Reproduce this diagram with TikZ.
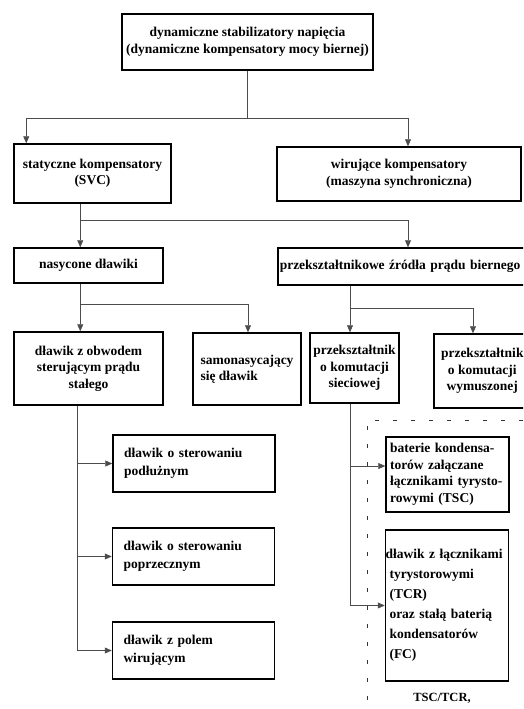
\documentclass[tikz,border=0pt]{standalone}
\usepackage{fontspec}
\setmainfont{Liberation Serif}
\usetikzlibrary{arrows.meta}

\begin{document}
\begin{tikzpicture}[x=1pt,y=-1pt,
  font=\fontsize{13.5}{16.5}\selectfont\bfseries,
  box/.style={draw=black,line width=1.5pt,align=center,inner sep=2pt},
  leftbox/.style={box,align=left,inner xsep=11pt,text width=140pt,
    minimum width=162pt,minimum height=57pt},
  sidebox/.style={box,align=left,inner xsep=4pt,text width=115pt},
  link/.style={draw=black!70,line width=0.5pt},
  flow/.style={link,-{Triangle[length=7pt,width=6pt]}},
  frame/.style={draw=black!80,line width=0.7pt,dash pattern=on 4pt off 14pt}]
\path[use as bounding box] (0,0) rectangle (523,709);
\clip (0,0) rectangle (523,709);

\node[box,minimum width=251pt,minimum height=56pt] (dyn) at (247.5,42)
  {dynamiczne stabilizatory napięcia\\(dynamiczne kompensatory mocy biernej)};
\node[box,minimum width=157pt,minimum height=59pt] (svc) at (92.5,173.5)
  {statyczne kompensatory\\(SVC)};
\node[box,minimum width=244pt,minimum height=54pt] (wir) at (399,174)
  {wirujące kompensatory\\(maszyna synchroniczna)};
\node[box,minimum width=149pt,minimum height=35pt] (nas) at (88.5,265.5)
  {nasycone dławiki};
\node[box,align=left,inner xsep=2pt,text width=254pt,minimum height=37pt,
  anchor=west] (prz) at (277,266.5)
  {przekształtnikowe źródła prądu biernego};
\node[box,minimum width=149pt,minimum height=73pt] (dob) at (88.5,368.5)
  {dławik z obwodem\\sterującym prądu\\stałego};
\node[box,align=left,minimum width=108pt,minimum height=72pt] (sam) at (247,369)
  {samonasycający\\się dławik};
\node[box,minimum width=89pt,minimum height=70pt] (sie) at (354.5,368)
  {przekształtnik\\o komutacji\\sieciowej};
\node[box,minimum width=97pt,minimum height=74pt,anchor=west] (wym) at (433,371)
  {przekształtnik\\o komutacji\\wymuszonej};
\node[leftbox,font=\fontsize{13.5}{18.5}\selectfont\bfseries] (pod) at (194,463.5)
  {dławik o sterowaniu\\podłużnym};
\node[leftbox,font=\fontsize{13.5}{18.5}\selectfont\bfseries] (pop) at (193.5,556.5)
  {dławik o sterowaniu\\poprzecznym};
\node[leftbox,font=\fontsize{13.5}{18.5}\selectfont\bfseries] (pol) at (193.5,650.5)
  {dławik z polem\\wirującym};
\node[sidebox,minimum width=123pt,minimum height=75pt] (tsc) at (447.5,474.5)
  {baterie kondensa-\\torów załączane\\łącznikami tyrysto-\\rowymi (TSC)};
\node[sidebox,minimum width=122pt,minimum height=151pt,
  font=\fontsize{13.5}{20}\selectfont\bfseries] (tcr) at (447,605.5)
  {\hspace*{-4pt}dławik z łącznikami\\tyrystorowymi\\(TCR)\\oraz stałą baterią\\kondensatorów\\(FC)};
\node[font=\fontsize{12.5}{15}\selectfont\bfseries] (tag) at (442,698) {TSC/TCR,};

\draw[link] (dyn.south) -- ++(0,47) coordinate (fork1);
\draw[flow] (fork1) -| ([xshift=13pt]svc.north west);
\draw[flow] (fork1) -| ([xshift=9pt]wir.north);

\draw[link] ([xshift=67pt]svc.south west) -- ++(0,16) coordinate (fork2);
\draw[flow] (fork2) -- ([xshift=67pt]nas.north west);
\draw[flow] (fork2) -| ([xshift=131pt]prz.north west);

\draw[link] ([xshift=67pt]nas.south west) -- ++(0,20) coordinate (fork3);
\draw[flow] (fork3) -- ([xshift=67pt]dob.north west);
\draw[flow] (fork3) -| ([xshift=1pt]sam.north);

\draw[link] ([xshift=73pt]prz.south west) -- ++(0,22) coordinate (fork4);
\draw[flow] (fork4) -- ([xshift=-4.5pt]sie.north);
\draw[flow] (fork4) -| ([xshift=40pt]wym.north west);

\draw[flow] ([xshift=64pt]dob.south west) |- (pod.west);
\draw[flow] ([xshift=64pt]dob.south west) |- (pop.west);
\draw[flow] ([xshift=64pt]dob.south west) |- (pol.west);

\draw[flow] ([xshift=-4.5pt]sie.south) |- ([yshift=8.5pt]tsc.west);
\draw[flow] ([xshift=-4.5pt]sie.south) |- (tcr.west);

\draw[frame] (523,420) -- (367,420) -- (367,709);
\end{tikzpicture}
\end{document}
